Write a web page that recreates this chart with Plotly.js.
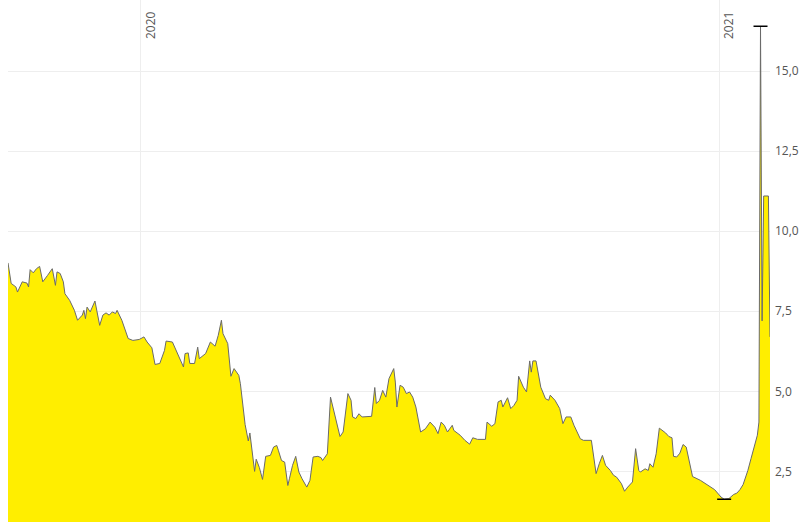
<!DOCTYPE html>
<html>
<head>
<meta charset="utf-8">
<script src="https://cdn.plot.ly/plotly-3.0.1.min.js"></script>
<style>
  html, body { margin: 0; padding: 0; background: #ffffff; }
  #chart { width: 805px; height: 526px; }
</style>
</head>
<body>
<div id="chart"></div>
<script>
// Dates of the price points
var dates = [
  '2019-10-09','2019-10-11','2019-10-14','2019-10-15','2019-10-18','2019-10-21','2019-10-22','2019-10-23','2019-10-25','2019-10-27',
  '2019-10-29','2019-10-31','2019-11-03','2019-11-06','2019-11-08','2019-11-09','2019-11-11','2019-11-13','2019-11-14','2019-11-17',
  '2019-11-20','2019-11-22','2019-11-25','2019-11-26','2019-11-27','2019-11-28','2019-11-30','2019-12-03','2019-12-06','2019-12-08',
  '2019-12-10','2019-12-12','2019-12-14','2019-12-16','2019-12-17','2019-12-20','2019-12-24','2019-12-27','2019-12-31','2020-01-03',
  '2020-01-05','2020-01-08','2020-01-10','2020-01-13','2020-01-16','2020-01-17','2020-01-21','2020-01-24','2020-01-28','2020-01-29',
  '2020-01-31','2020-02-01','2020-02-04','2020-02-06','2020-02-07','2020-02-11','2020-02-14','2020-02-17','2020-02-19','2020-02-21',
  '2020-02-22','2020-02-25','2020-02-27','2020-02-29','2020-03-03','2020-03-04','2020-03-07','2020-03-09','2020-03-10','2020-03-13',
  '2020-03-14','2020-03-16','2020-03-18','2020-03-20','2020-03-23','2020-03-25','2020-03-27','2020-03-28','2020-03-30','2020-04-01',
  '2020-04-03','2020-04-04','2020-04-06','2020-04-08','2020-04-10','2020-04-12','2020-04-15','2020-04-17','2020-04-19','2020-04-22',
  '2020-04-24','2020-04-25','2020-04-28','2020-04-30','2020-05-02','2020-05-04','2020-05-06','2020-05-08','2020-05-09','2020-05-11',
  '2020-05-13','2020-05-14','2020-05-16','2020-05-18','2020-05-20','2020-05-23','2020-05-26','2020-05-28','2020-05-29','2020-05-31',
  '2020-06-02','2020-06-04','2020-06-06','2020-06-09','2020-06-10','2020-06-11','2020-06-13','2020-06-15','2020-06-17','2020-06-19',
  '2020-06-21','2020-06-23','2020-06-26','2020-06-29','2020-07-02','2020-07-05','2020-07-07','2020-07-09','2020-07-11','2020-07-13',
  '2020-07-16','2020-07-17','2020-07-21','2020-07-24','2020-07-27','2020-07-29','2020-08-01','2020-08-06','2020-08-07','2020-08-10',
  '2020-08-12','2020-08-14','2020-08-16','2020-08-17','2020-08-19','2020-08-20','2020-08-22','2020-08-24','2020-08-26','2020-08-27',
  '2020-08-30','2020-09-01','2020-09-03','2020-09-04','2020-09-05','2020-09-07','2020-09-10','2020-09-13','2020-09-15','2020-09-16',
  '2020-09-19','2020-09-22','2020-09-24','2020-09-26','2020-09-29','2020-10-01','2020-10-05','2020-10-07','2020-10-12','2020-10-15',
  '2020-10-17','2020-10-19','2020-10-21','2020-10-24','2020-10-26','2020-10-28','2020-10-31','2020-11-02','2020-11-04','2020-11-07',
  '2020-11-09','2020-11-11','2020-11-12','2020-11-15','2020-11-17','2020-11-18','2020-11-20','2020-11-22','2020-11-24','2020-11-28',
  '2020-11-30','2020-12-02','2020-12-03','2020-12-05','2020-12-07','2020-12-09','2020-12-11','2020-12-13','2020-12-15','2020-12-20',
  '2020-12-24','2020-12-29','2021-01-02','2021-01-04','2021-01-07','2021-01-10','2021-01-12','2021-01-14','2021-01-16','2021-01-18',
  '2021-01-19','2021-01-21','2021-01-23','2021-01-25','2021-01-26','2021-01-27','2021-01-28','2021-01-29','2021-02-01','2021-02-02'
];

// Prices (EUR)
var prices = [
  9.01,8.37,8.26,8.10,8.42,8.38,8.26,8.80,8.70,8.83,
  8.90,8.42,8.62,8.83,8.31,8.73,8.68,8.42,8.05,7.84,
  7.53,7.22,7.38,7.53,7.27,7.63,7.48,7.82,7.06,7.38,
  7.45,7.38,7.48,7.43,7.53,7.22,6.65,6.59,6.62,6.70,
  6.54,6.36,5.84,5.87,6.28,6.57,6.54,6.18,5.76,6.18,
  6.20,5.87,5.87,6.38,6.02,6.18,6.54,6.41,6.75,7.22,
  6.80,6.49,5.47,5.71,5.50,5.24,3.96,3.45,3.70,2.50,
  2.88,2.62,2.25,2.97,3.00,3.26,3.31,3.16,2.84,2.79,
  2.06,2.27,2.69,2.97,2.48,2.27,2.01,2.22,2.95,2.97,
  2.93,2.84,3.05,4.82,4.41,4.09,3.59,3.73,4.09,4.93,
  4.72,4.20,4.15,4.30,4.20,4.22,4.22,5.12,4.62,4.72,
  5.03,4.82,5.40,5.71,5.29,4.51,5.19,5.13,4.93,4.98,
  4.82,4.51,3.73,3.83,4.04,3.88,3.68,4.04,3.94,3.73,
  3.94,3.78,3.63,3.47,3.35,3.55,3.50,3.50,4.04,3.91,
  3.99,4.67,4.72,4.51,4.72,4.80,4.46,4.56,4.72,5.47,
  5.13,4.98,5.95,5.60,5.95,5.95,5.13,4.77,4.72,4.88,
  4.72,4.46,3.99,4.20,4.20,3.94,3.52,3.47,3.47,2.43,
  2.74,3.00,2.69,2.53,2.38,2.32,2.12,1.88,2.01,2.17,
  3.21,2.53,2.48,2.58,2.53,2.74,2.63,3.05,3.85,3.70,
  3.59,3.55,2.97,2.95,3.07,3.34,3.26,2.74,2.34,2.22,
  2.08,1.93,1.70,1.63,1.65,1.78,1.82,1.93,2.09,2.35,
  2.53,2.90,3.26,3.63,4.04,16.40,7.20,11.10,11.10,6.70
];

// Axis settings
var xRange = ['2019-10-09', '2021-02-02'];
var yRange = [0.92, 17.22];
var yTicks = [2.5, 5, 7.5, 10, 12.5, 15];

// extreme points (max / min) marked with a short black bar
var iMax = prices.indexOf(Math.max.apply(null, prices));
var iMin = prices.indexOf(Math.min.apply(null, prices));

var area = {
  type: 'scatter',
  mode: 'lines',
  x: dates,
  y: prices,
  fill: 'tozeroy',
  fillcolor: '#FFEE00',
  line: { color: '#6a6a6a', width: 1 },
  hoverinfo: 'x+y'
};

var extremes = {
  type: 'scatter',
  mode: 'markers',
  x: [dates[iMax], dates[iMin]],
  y: [prices[iMax], prices[iMin]],
  marker: { symbol: 'line-ew', size: 10, line: { color: '#000000', width: 1.5 } },
  hoverinfo: 'skip'
};

var layout = {
  width: 805,
  height: 526,
  margin: { l: 8, r: 35, t: 0, b: 4 },
  paper_bgcolor: '#ffffff',
  plot_bgcolor: '#ffffff',
  showlegend: false,
  separators: ',.',
  font: { family: '"Open Sans", Arial, sans-serif', size: 12, color: '#555555' },
  xaxis: {
    type: 'date',
    range: xRange,
    side: 'top',
    tick0: '2020-01-01',
    dtick: 'M12',
    tickformat: '%Y',
    tickangle: -90,
    ticklabelposition: 'inside',
    ticklabelshift: 10,
    ticklabelstandoff: 2,
    ticks: '',
    showgrid: true,
    gridcolor: '#eeeeee',
    gridwidth: 1,
    zeroline: false,
    showline: false,
    tickfont: { size: 12, color: '#555555' }
  },
  yaxis: {
    side: 'right',
    range: yRange,
    tickvals: yTicks,
    tickformat: '.1f',
    ticks: '',
    ticklabelstandoff: 4,
    showgrid: true,
    gridcolor: '#eeeeee',
    gridwidth: 1,
    zeroline: false,
    showline: false,
    tickfont: { size: 12, color: '#555555' }
  }
};

Plotly.newPlot('chart', [area, extremes], layout, { displayModeBar: false, staticPlot: true });
</script>
</body>
</html>
